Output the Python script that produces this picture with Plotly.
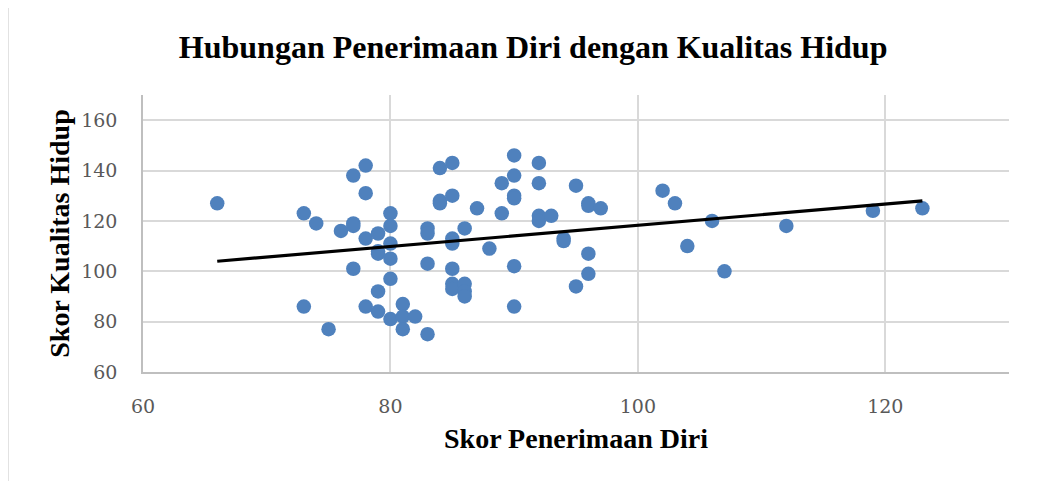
import numpy as np
import plotly.graph_objects as go

penerimaan_diri = [66, 73, 73, 74, 75, 76, 77, 77, 77, 77, 78, 78, 78, 78, 79, 79, 79, 79, 79,
                   80, 80, 80, 80, 80, 80, 81, 81, 81, 82, 83, 83, 83, 83, 84, 84, 84,
                   85, 85, 85, 85, 85, 85, 85, 86, 86, 86, 86, 87, 88, 89, 89,
                   90, 90, 90, 90, 90, 90, 92, 92, 92, 92, 93, 94, 94, 95, 95,
                   96, 96, 96, 96, 97, 102, 103, 104, 106, 107, 112, 119, 123]
kualitas_hidup = [127, 123, 86, 119, 77, 116, 138, 119, 118, 101, 142, 131, 113, 86, 115, 108, 107, 92, 84,
                  123, 118, 111, 105, 97, 81, 87, 82, 77, 82, 117, 115, 103, 75, 141, 128, 127,
                  143, 130, 113, 111, 101, 95, 93, 117, 95, 92, 90, 125, 109, 135, 123,
                  146, 138, 130, 129, 102, 86, 143, 135, 122, 120, 122, 113, 112, 134, 94,
                  127, 126, 107, 99, 125, 132, 127, 110, 120, 100, 118, 124, 125]

x_ticks = [60, 80, 100, 120]
y_ticks = [60, 80, 100, 120, 140, 160]

xs = np.array(penerimaan_diri, dtype=float)
ys = np.array(kualitas_hidup, dtype=float)
slope, intercept = np.polyfit(xs, ys, 1)
trend_x = [xs.min(), xs.max()]
trend_y = [slope * v + intercept for v in trend_x]

serif = "Liberation Serif"
tickfam = "DejaVu Serif"

fig = go.Figure()
fig.add_trace(go.Scatter(x=penerimaan_diri, y=kualitas_hidup, mode="markers",
                         marker=dict(color="#4f81bd", size=14.5, line=dict(width=0)),
                         showlegend=False, hoverinfo="x+y"))
fig.add_trace(go.Scatter(x=trend_x, y=trend_y, mode="lines",
                         line=dict(color="#000000", width=3.2),
                         showlegend=False, hoverinfo="skip"))

fig.update_layout(
    width=1044, height=481,
    margin=dict(l=135, r=43, t=87, b=117),
    paper_bgcolor="white", plot_bgcolor="white",
    title=dict(text="<b>Hubungan Penerimaan Diri dengan Kualitas Hidup</b>",
               x=0.503, xanchor="center", y=0.919, yanchor="middle",
               font=dict(family=serif, size=32, color="#000000")),
    xaxis=dict(range=[60, 130], tickvals=x_ticks, ticktext=[str(t) for t in x_ticks],
               showgrid=True, gridcolor="#d9d9d9", gridwidth=1.5,
               showline=True, linecolor="#bfbfbf", linewidth=1.5, zeroline=False,
               ticks="", ticklabelstandoff=16,
               tickfont=dict(family=tickfam, size=19, color="#595959"),
               title=dict(text="<b>Skor Penerimaan Diri</b>", standoff=13,
                          font=dict(family=serif, size=28, color="#000000"))),
    yaxis=dict(range=[60, 170], tickvals=y_ticks, ticktext=[str(t) for t in y_ticks],
               showgrid=True, gridcolor="#d9d9d9", gridwidth=1.5,
               showline=True, linecolor="#bfbfbf", linewidth=1.5, zeroline=False,
               ticks="", ticklabelstandoff=20,
               tickfont=dict(family=tickfam, size=19, color="#595959"),
               title=dict(text="<b>Skor Kualitas Hidup</b>", standoff=3,
                          font=dict(family=serif, size=28, color="#000000"))),
    shapes=[dict(type="rect", xref="paper", yref="paper",
                 x0=(8 - 143) / 866, x1=1.2, y0=-0.6, y1=(372 - 5) / 277,
                 line=dict(color="#d9d9d9", width=1.5), fillcolor="rgba(0,0,0,0)",
                 layer="below")],
)

fig.write_html("out.html")
